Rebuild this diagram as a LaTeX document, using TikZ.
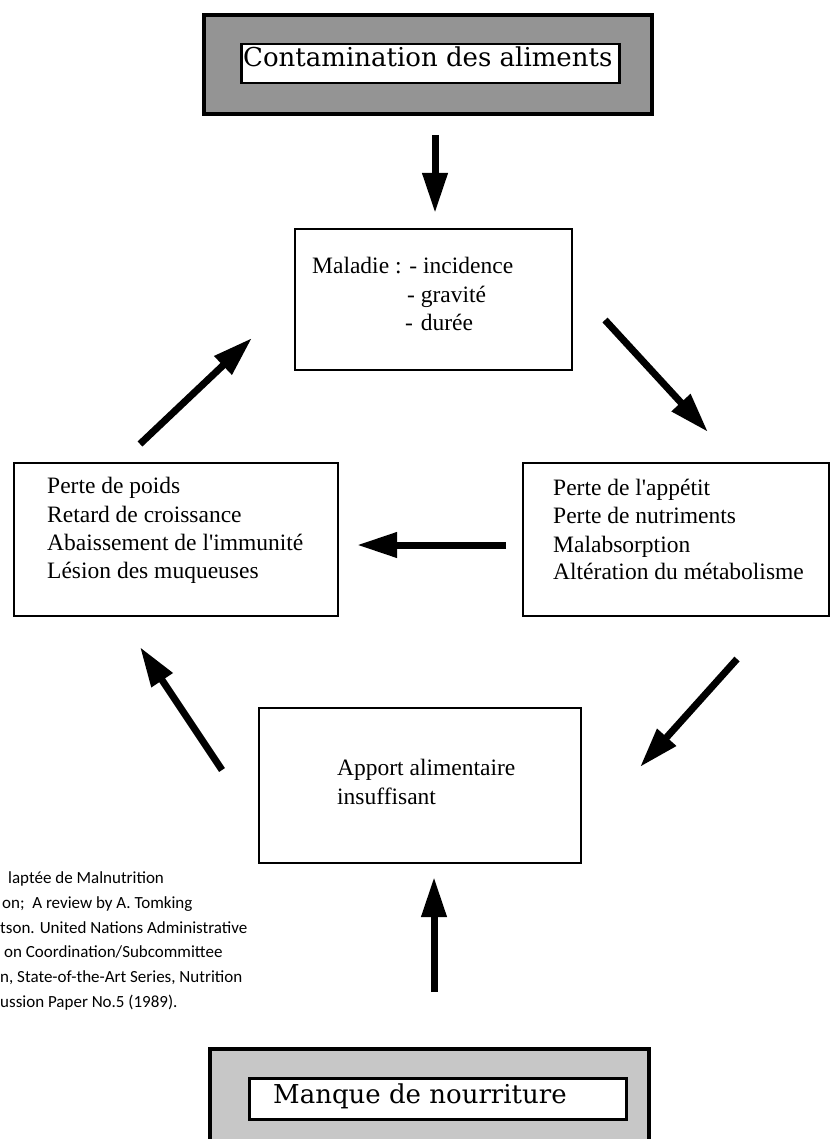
\documentclass[tikz,border=0pt]{standalone}
\usepackage{fontspec}
\setmainfont{Liberation Serif}
\newfontfamily\titlefont{DejaVu Serif}
\newfontfamily\notefont{Carlito}
\usetikzlibrary{arrows.meta}
\begin{document}
\begin{tikzpicture}[x=1pt,y=-1pt,
  box/.style={draw, line width=1.6pt, inner sep=0pt, anchor=north west},
  txt/.style={inner sep=0pt, anchor=base west, font=\fontsize{23.5}{28}\selectfont},
  ttl/.style={inner sep=0pt, anchor=base west, font=\titlefont\fontsize{26}{30}\selectfont},
  note/.style={inner sep=0pt, anchor=base west, font=\notefont\fontsize{17}{20}\selectfont},
  bigarrow/.style={line width=7pt, -{Triangle[length=40pt,width=24pt]}}]
\useasboundingbox (0,0) rectangle (830,1139);
% top framed title
\node[box, line width=4pt, fill=black!42, minimum width=448pt, minimum height=99pt] (topframe) at (202,13) {};
\node[box, line width=2.5pt, fill=white, minimum width=378pt, minimum height=39pt] (topinner) at (240,43) {};
\node[ttl] (toptxt) at (243,67) {Contamination des aliments};
% bottom framed title
\node[box, line width=4pt, fill=black!22, minimum width=439pt, minimum height=110pt] (botframe) at (208,1047) {};
\node[box, line width=2.5pt, fill=white, minimum width=377pt, minimum height=41pt] (botinner) at (248,1077) {};
\node[ttl] (bottxt) at (273,1103) {Manque de nourriture};
% boxes
\node[box, minimum width=277pt, minimum height=141pt] (maladie) at (294,228) {};
\node[txt] (m1) at (312,273) {Maladie : - incidence};
\node[txt] (m2) at (407,302) {- gravité};
\node[txt] (m3) at (405,330) {-\,\,durée};
\node[box, minimum width=324pt, minimum height=153pt] (leftbox) at (13,462) {};
\node[txt] (l1) at (47,493) {Perte de poids};
\node[txt] (l2) at (47,522) {Retard de croissance};
\node[txt] (l3) at (47,550) {Abaissement de l\textquotesingle immunité};
\node[txt] (l4) at (47,578) {Lésion des muqueuses};
\node[box, minimum width=306pt, minimum height=153pt] (rightbox) at (522,462) {};
\node[txt] (r1) at (553,495) {Perte de l\textquotesingle appétit};
\node[txt] (r2) at (553,523) {Perte de nutriments};
\node[txt] (r3) at (553,552) {Malabsorption};
\node[txt] (r4) at (553,579) {Altération du métabolisme};
\node[box, minimum width=322pt, minimum height=155pt] (bottombox) at (258,707) {};
\node[txt] (b1) at (337,775) {Apport alimentaire};
\node[txt] (b2) at (337,804) {insuffisant};
% arrows
\coordinate (a1s) at (435,135); \coordinate (a1e) at (435,213);
\coordinate (a2s) at (605,320); \coordinate (a2e) at (708,432);
\coordinate (a3s) at (737,659); \coordinate (a3e) at (640,767);
\coordinate (a4s) at (506,545); \coordinate (a4e) at (357,545);
\coordinate (a5s) at (222,770); \coordinate (a5e) at (140,647);
\coordinate (a6s) at (140,444); \coordinate (a6e) at (252,338);
\coordinate (a7s) at (434,992); \coordinate (a7e) at (434,877);
\foreach \i in {1,...,7} { \draw[bigarrow] (a\i s) -- (a\i e); }
% footnote
\node[note] (n1) at (8,883) {laptée de Malnutrition};
\node[note] (n2) at (2,908) {on;\ \ A review by A. Tomking};
\node[note] (n3) at (0,933) {tson. United Nations Administrative};
\node[note] (n4) at (4,957) {on Coordination/Subcommittee};
\node[note] (n5) at (0,982) {n, State-of-the-Art Series, Nutrition};
\node[note] (n6) at (0,1007) {ussion Paper No.5 (1989).};
\end{tikzpicture}
\end{document}
